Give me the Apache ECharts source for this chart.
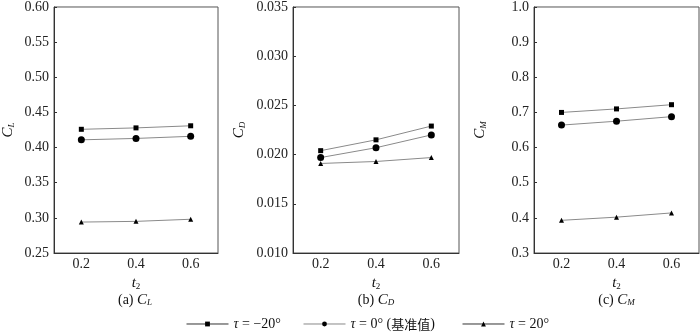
<!DOCTYPE html>
<html><head><meta charset="utf-8">
<script src="https://cdn.jsdelivr.net/npm/echarts@6/dist/echarts.min.js"></script>
<style>html,body{margin:0;padding:0;background:#fff}#c{width:700px;height:332px}</style>
</head><body><div id="c"></div>
<script>
const categories = ['0.2', '0.4', '0.6'];
const seriesNames = ['τ = −20°', 'τ = 0° (基准值)', 'τ = 20°'];
// Panel (a) C_L
const clM20 = [0.426, 0.428, 0.431];
const clZero = [0.411, 0.413, 0.416];
const clP20 = [0.294, 0.295, 0.298];
// Panel (b) C_D
const cdM20 = [0.0204, 0.0215, 0.0229];
const cdZero = [0.0197, 0.0207, 0.0220];
const cdP20 = [0.0191, 0.0193, 0.0197];
// Panel (c) C_M
const cmM20 = [0.700, 0.710, 0.722];
const cmZero = [0.664, 0.675, 0.688];
const cmP20 = [0.393, 0.402, 0.414];

const yMins = [0.25, 0.010, 0.3];
const yMaxs = [0.60, 0.035, 1.0];
const yIntervals = [0.05, 0.005, 0.1];
const yDecimals = [2, 3, 1];
const yNames = ['{i|C}{s|L}', '{i|C}{s|D}', '{i|C}{s|M}'];
const subTitles = ['(a) {i|C}{s|L}', '(b) {i|C}{s|D}', '(c) {i|C}{s|M}'];

const FONT = '"Liberation Serif", "Times New Roman", "Noto Sans CJK SC", serif';
const rich = {
  i: {fontFamily: FONT, fontStyle: 'italic', fontSize: 15, color: '#111'},
  s: {fontFamily: FONT, fontStyle: 'italic', fontSize: 9, color: '#111', verticalAlign: 'bottom', padding: [6, 0, 0, 0]},
  u: {fontFamily: FONT, fontSize: 9, color: '#111', padding: [6, 0, 0, 0]},
  n: {fontFamily: FONT, fontSize: 14, color: '#111'}
};

const gridLefts = [52, 293, 534];
const gridWidths = [166, 166, 165];
const nameGaps = [38, 46, 46];

const grids = gridLefts.map((l, k) => ({
  left: l, width: gridWidths[k], top: 5, height: 248,
  show: true, borderColor: '#555', borderWidth: 1, backgroundColor: 'transparent'
}));

const xAxes = gridLefts.map((l, k) => ({
  type: 'category', gridIndex: k, data: categories, boundaryGap: true,
  axisLine: {lineStyle: {color: '#333', width: 1}},
  axisTick: {inside: true, alignWithLabel: true, length: 3, lineStyle: {color: '#333'}},
  axisLabel: {fontFamily: FONT, fontSize: 14, color: '#222', margin: 4},
  name: '{i|t}{u|2}', nameLocation: 'middle', nameGap: 21,
  nameTextStyle: {rich: rich}
}));

const yAxes = gridLefts.map((l, k) => ({
  type: 'value', gridIndex: k, min: yMins[k], max: yMaxs[k], interval: yIntervals[k],
  splitLine: {show: false},
  axisLine: {show: true, lineStyle: {color: '#333', width: 1}},
  axisTick: {show: true, inside: true, length: 3, lineStyle: {color: '#333'}},
  axisLabel: {fontFamily: FONT, fontSize: 14, color: '#222', margin: 5,
    formatter: v => v.toFixed(yDecimals[k])},
  name: yNames[k], nameLocation: 'middle', nameRotate: 90, nameGap: nameGaps[k],
  nameTextStyle: {rich: rich}
}));

const dataSets = [[clM20, clZero, clP20], [cdM20, cdZero, cdP20], [cmM20, cmZero, cmP20]];
const symbols = ['rect', 'circle', 'triangle'];
const symbolSizes = [5, 7, 5];
const series = [];
dataSets.forEach((set, k) => {
  set.forEach((arr, j) => {
    series.push({
      name: seriesNames[j], type: 'line', xAxisIndex: k, yAxisIndex: k, data: arr,
      symbol: symbols[j], symbolSize: symbolSizes[j], showSymbol: true,
      lineStyle: {color: '#8a8a8a', width: 1},
      itemStyle: {color: '#000'},
      animation: false
    });
  });
});

const legendLefts = [186, 303, 462];
const legendLineColors = ['#333', '#888', '#333'];
const legendRich = {
  i: {fontFamily: FONT, fontStyle: 'italic', fontSize: 14, color: '#111'},
  n: {fontFamily: FONT, fontSize: 14, color: '#111'},
  c: {fontFamily: '"Noto Sans CJK SC", serif', fontSize: 13, color: '#111'}
};
const legendFmt = name => {
  if (name === seriesNames[0]) return '{i|τ}{n| = −20°}';
  if (name === seriesNames[1]) return '{i|τ}{n| = 0° (}{c|基准值}{n|)}';
  return '{i|τ}{n| = 20°}';
};
const legends = seriesNames.map((nm, j) => ({
  data: [nm], left: legendLefts[j], top: 317, padding: 0,
  itemWidth: 42, itemHeight: 6, itemGap: 4,
  lineStyle: {color: legendLineColors[j], width: 1},
  formatter: legendFmt, textStyle: {rich: legendRich}, selectedMode: false
}));

const graphics = gridLefts.map((l, k) => ({
  type: 'text', x: l + gridWidths[k] / 2, y: 300,
  style: {text: subTitles[k], rich: rich, align: 'center', verticalAlign: 'middle',
    font: '14px ' + FONT, fill: '#111'}
}));

const chart = echarts.init(document.getElementById('c'), null, {renderer: 'canvas'});
chart.setOption({
  animation: false,
  grid: grids, xAxis: xAxes, yAxis: yAxes, series: series,
  legend: legends, graphic: graphics
});
</script></body></html>
